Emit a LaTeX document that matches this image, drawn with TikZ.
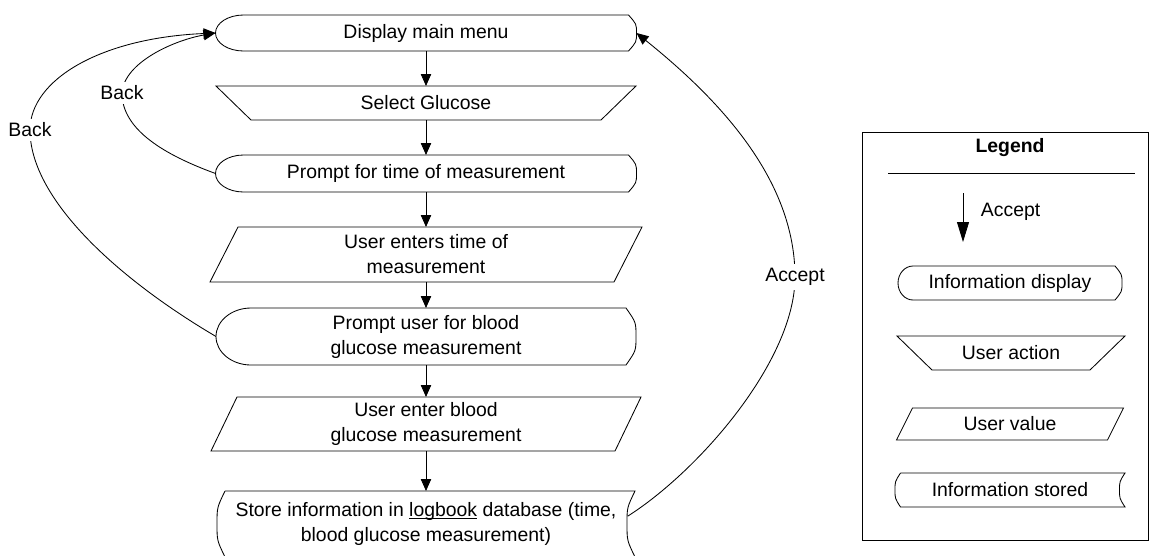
\documentclass[tikz,border=0pt]{standalone}
\usepackage{fontspec}
\setmainfont{Liberation Sans}
\usetikzlibrary{arrows.meta,calc}

% outlines drawn round a plain (undrawn) node
\newcommand{\dispshape}[3]{%
  \draw[outline] ($(#1.north west)+(#2,0)$) -- ($(#1.north east)+(-#3,0)$)
    .. controls ($(#1.north east)!0.5!(#1.east)$) .. (#1.east)
    .. controls ($(#1.south east)!0.5!(#1.east)$) .. ($(#1.south east)+(-#3,0)$)
    -- ($(#1.south west)+(#2,0)$)
    .. controls ($(#1.south west)+(0.45*#2,0)$) and ($(#1.west)!0.55!(#1.south west)$) .. (#1.west)
    .. controls ($(#1.west)!0.55!(#1.north west)$) and ($(#1.north west)+(0.45*#2,0)$) .. ($(#1.north west)+(#2,0)$);}
\newcommand{\actshape}[2]{%
  \draw[outline] (#1.north west) -- (#1.north east) -- ($(#1.south east)+(-#2,0)$)
    -- ($(#1.south west)+(#2,0)$) -- cycle;}
\newcommand{\valshape}[2]{%
  \draw[outline] ($(#1.north west)+(#2,0)$) -- (#1.north east) -- ($(#1.south east)+(-#2,0)$)
    -- (#1.south west) -- cycle;}
\newcommand{\storeshape}[2]{%
  \draw[outline] ($(#1.north west)+(#2,0)$) -- (#1.north east)
    .. controls ($(#1.north east)!0.5!(#1.east)+(-#2,0)$) .. ($(#1.east)+(-#2,0)$)
    .. controls ($(#1.south east)!0.5!(#1.east)+(-#2,0)$) .. (#1.south east)
    -- ($(#1.south west)+(#2,0)$)
    .. controls ($(#1.south west)!0.5!(#1.west)$) .. (#1.west)
    .. controls ($(#1.north west)!0.5!(#1.west)$) .. ($(#1.north west)+(#2,0)$);}

\begin{document}
\begin{tikzpicture}[x=0.025cm, y=-0.025cm, font={\fontsize{13.8}{17.8}\selectfont}]
\tikzset{
shapebox/.style 2 args={rectangle, inner sep=0pt, outer sep=0pt, align=center,
  minimum width=#1*0.025cm, minimum height=#2*0.025cm},
outline/.style={draw=black, line width=0.6pt},
myarrow/.style={-{Triangle[length=3mm,width=2.6mm]}, line width=0.6pt},
longarrow/.style={-{Triangle[length=5mm,width=3mm]}, line width=0.6pt},
mylabel/.style={fill=white, inner sep=3pt},
}
\useasboundingbox (0,0) rectangle (1150,555);

% flow
\node[shapebox={421}{36}] (menu) at (426,33) {Display main menu};
\node[shapebox={420}{34}] (select) at (426,103) {Select Glucose};
\node[shapebox={421}{37}] (prompttime) at (426,173.5) {Prompt for time of measurement};
\node[shapebox={432}{55}] (entertime) at (426,254.5) {User enters time of\\measurement};
\node[shapebox={420}{57}] (promptbg) at (426,336.5) {Prompt user for blood\\glucose measurement};
\node[shapebox={430}{54}] (enterbg) at (426,424) {User enter blood\\glucose measurement};
\node[shapebox={418}{66}] (store) at (426,524) {Store information in \underline{\smash{logbook}} database (time,\\blood glucose measurement)};

\dispshape{menu}{28}{8}
\actshape{select}{35}
\dispshape{prompttime}{28}{8}
\valshape{entertime}{28}
\dispshape{promptbg}{35}{10}
\valshape{enterbg}{26}
\storeshape{store}{8}

\foreach \a/\b in {menu/select, select/prompttime, prompttime/entertime,
  entertime/promptbg, promptbg/enterbg, enterbg/store}
  \draw[myarrow] (\a) -- (\b);

\draw[myarrow] (prompttime.west) .. controls (165,155) and (122,130) .. (122,93)
  node[mylabel] (back1) {Back} .. controls (124,62) and (175,40) .. (menu.west);
\draw[myarrow] (promptbg.west) .. controls (120,280) and (30,200) .. (30,130)
  node[mylabel] (back2) {Back} .. controls (30,80) and (100,38) .. (menu.west);
\draw[myarrow] ($(store.east)+(-7,-8)$) .. controls (700,470) and (795,360) .. (795,277)
  node[mylabel] (accept) {Accept} .. controls (795,180) and (720,100) .. (menu.east);

% legend
\draw[outline] (862,132) rectangle (1148,540);
\node (legend) at (1010,148) {\bfseries Legend};
\coordinate (rulel) at (888,173);
\coordinate (ruler) at (1135,173);
\draw[outline] (rulel) -- (ruler);
\coordinate (arrtop) at (963,193);
\coordinate (arrbot) at (963,242);
\draw[longarrow] (arrtop) -- (arrbot);
\node[anchor=west] (keyaccept) at (976,212) {Accept};
\node[shapebox={224}{34}] (keydisp) at (1010,283) {Information display};
\dispshape{keydisp}{15}{7}
\node[shapebox={228}{34}] (keyact) at (1011,353) {User action};
\actshape{keyact}{35}
\node[shapebox={227}{32}] (keyval) at (1010,424) {User value};
\valshape{keyval}{16}
\node[shapebox={230}{34}] (keystore) at (1010,490) {Information stored};
\storeshape{keystore}{5.5}
\end{tikzpicture}
\end{document}
